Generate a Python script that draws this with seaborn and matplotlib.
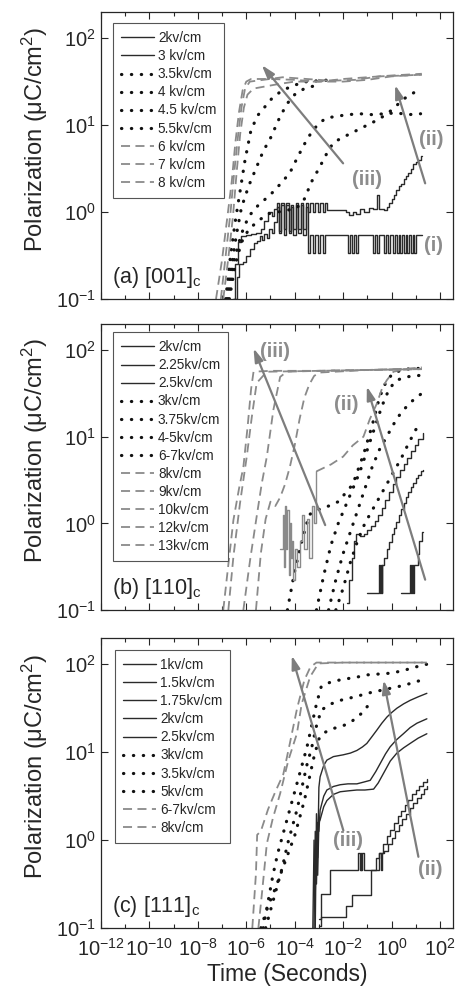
import numpy as np
import pandas as pd
import matplotlib
matplotlib.use("Agg")
import matplotlib.pyplot as plt
from matplotlib.ticker import LogLocator, NullLocator, LogFormatterMathtext, NullFormatter
import seaborn as sns

# values as (log10 time [s], log10 polarization [uC/cm2])

# ---- (a) [001]c ----
a_2kv = [(-6.55, -1.0), (-6.45, -0.6), (-6.35, -0.35), (-6.2, -0.28), (-6.0, -0.26), (-5.8, -0.25),
         (-5.6, -0.24), (-5.4, -0.2), (-5.25, -0.1), (-5.1, 0.0), (-4.95, -0.05), (-4.85, 0.03),
         (-4.75, 0.06), (-4.65, -0.22), (-4.55, 0.08), (-4.45, -0.26), (-4.35, 0.08), (-4.25, -0.22),
         (-4.15, 0.06), (-4.05, -0.26), (-3.95, 0.08), (-3.85, -0.2), (-3.75, 0.08), (-3.65, -0.26),
         (-3.55, 0.06), (-3.45, -0.47), (-3.35, -0.26), (-3.25, -0.47), (-3.15, -0.26), (-3.05, -0.47),
         (-2.95, -0.26), (-2.85, -0.47), (-2.75, -0.26), (-1.8, -0.47), (-1.72, -0.26), (-1.64, -0.47),
         (-1.56, -0.26), (-1.48, -0.47), (-1.4, -0.26), (-0.75, -0.47), (-0.68, -0.26), (-0.6, -0.47),
         (-0.52, -0.26), (-0.3, -0.47), (-0.22, -0.26), (-0.14, -0.47), (-0.06, -0.26), (0.05, -0.47),
         (0.13, -0.26), (0.21, -0.47), (0.29, -0.26), (0.37, -0.47), (0.45, -0.26), (0.52, -0.47),
         (0.59, -0.26), (0.66, -0.47), (0.73, -0.26), (0.8, -0.47), (0.87, -0.26), (0.94, -0.47),
         (1.02, -0.26), (1.25, -0.26)]
a_3kv = [(-6.5, -1.0), (-6.4, -0.75), (-6.3, -0.6), (-6.15, -0.58), (-6.0, -0.5), (-5.85, -0.42),
         (-5.7, -0.36), (-5.55, -0.33), (-5.45, -0.28), (-5.35, -0.32), (-5.25, -0.25), (-5.15, -0.3),
         (-5.05, -0.2), (-4.95, -0.24), (-4.85, -0.12), (-4.75, 0.1), (-4.65, -0.24), (-4.55, 0.1),
         (-4.45, -0.2), (-4.35, 0.1), (-4.25, -0.24), (-4.15, 0.08), (-4.05, -0.2), (-3.95, 0.1),
         (-3.85, -0.24), (-3.75, 0.1), (-3.65, -0.2), (-3.55, 0.1), (-3.45, 0.0), (-3.35, 0.1),
         (-3.25, 0.0), (-3.15, 0.1), (-3.05, 0.0), (-2.95, 0.1), (-2.85, 0.0), (-2.75, 0.1),
         (-2.65, 0.02), (-1.9, 0.0), (-1.75, -0.03), (-1.6, 0.0), (-1.45, -0.02), (-1.3, 0.03),
         (-1.15, 0.0), (-0.95, 0.05), (-0.75, 0.03), (-0.62, 0.2), (-0.52, 0.03), (-0.3, 0.02),
         (-0.2, 0.06), (-0.1, 0.1), (0.0, 0.15), (0.1, 0.2), (0.2, 0.25), (0.3, 0.3), (0.4, 0.32),
         (0.5, 0.38), (0.6, 0.42), (0.7, 0.45), (0.8, 0.5), (0.9, 0.55), (1.0, 0.58), (1.1, 0.6),
         (1.2, 0.65), (1.25, 0.65)]
a_35kv = [(-6.7, -1.0), (-6.45, -0.6), (-6.2, -0.35), (-5.9, -0.2), (-5.5, -0.1), (-5.1, -0.02),
          (-4.7, 0.0), (-4.3, 0.02), (-3.9, 0.05), (-3.6, 0.15), (-3.3, 0.35), (-3.0, 0.5),
          (-2.7, 0.66), (-2.4, 0.8), (-2.0, 0.86), (-1.5, 0.93), (-1.0, 1.0), (-0.5, 1.07),
          (0.0, 1.17), (0.5, 1.3), (1.2, 1.42)]
a_4kv = [(-6.75, -1.0), (-6.5, -0.55), (-6.2, -0.25), (-5.9, -0.05), (-5.5, 0.08), (-5.0, 0.2),
         (-4.6, 0.32), (-4.2, 0.45), (-3.9, 0.62), (-3.6, 0.78), (-3.3, 0.92), (-3.0, 1.02),
         (-2.7, 1.08), (-2.3, 1.1), (-1.8, 1.12), (-1.3, 1.13), (-0.8, 1.12), (-0.3, 1.13),
         (0.2, 1.14), (0.7, 1.12), (1.2, 1.13)]
a_45kv = [(-6.8, -1.0), (-6.6, -0.6), (-6.4, -0.25), (-6.2, 0.05), (-5.9, 0.3), (-5.6, 0.5),
          (-5.3, 0.7), (-5.0, 0.85), (-4.6, 1.1), (-4.3, 1.25), (-4.0, 1.35), (-3.6, 1.42),
          (-3.2, 1.45), (-2.9, 1.46)]
a_55kv = [(-6.85, -1.0), (-6.65, -0.5), (-6.45, -0.1), (-6.25, 0.25), (-6.05, 0.6), (-5.8, 0.95),
          (-5.5, 1.12), (-5.2, 1.22), (-4.9, 1.32), (-4.5, 1.4), (-4.0, 1.46), (-3.5, 1.5),
          (-3.0, 1.51), (-2.5, 1.52)]
a_6kv = [(-6.95, -1.0), (-6.75, -0.55), (-6.55, -0.05), (-6.4, 0.45), (-6.25, 0.9), (-6.1, 1.2),
         (-5.95, 1.35), (-5.7, 1.42), (-5.3, 1.44), (-4.7, 1.47), (-4.0, 1.5), (-3.0, 1.5),
         (-2.0, 1.5), (-1.0, 1.52), (0.0, 1.56), (1.25, 1.58)]
a_7kv = [(-7.05, -1.0), (-6.85, -0.5), (-6.65, 0.0), (-6.5, 0.45), (-6.35, 0.85), (-6.2, 1.2),
         (-6.05, 1.42), (-5.85, 1.5), (-5.3, 1.52), (-4.5, 1.55), (-3.5, 1.53), (-2.5, 1.51),
         (-1.5, 1.52), (-0.5, 1.56), (0.5, 1.57), (1.25, 1.58)]
a_8kv = [(-7.25, -1.0), (-7.0, -0.55), (-6.8, -0.1), (-6.6, 0.35), (-6.45, 0.8), (-6.3, 1.15),
         (-6.15, 1.4), (-6.0, 1.5), (-5.8, 1.53), (-5.0, 1.53), (-4.0, 1.52), (-3.0, 1.5),
         (-2.0, 1.53), (-1.0, 1.55), (0.0, 1.57), (1.25, 1.59)]

# ---- (b) [110]c ----
b_2kv = [(0.4, -0.8), (0.75, -0.48), (0.8, -0.8), (0.85, -0.48), (0.88, -0.8), (0.92, -0.48),
         (1.0, -0.48), (1.08, -0.35), (1.15, -0.2), (1.25, -0.1), (1.3, -0.1)]
b_225kv = [(-1.0, -0.8), (-0.5, -0.48), (-0.47, -0.8), (-0.44, -0.48), (-0.41, -0.8), (-0.38, -0.48),
           (-0.3, -0.4), (-0.2, -0.3), (-0.1, -0.22), (0.0, -0.12), (0.1, -0.05), (0.2, 0.02),
           (0.3, 0.1), (0.4, 0.17), (0.5, 0.23), (0.6, 0.3), (0.7, 0.36), (0.8, 0.42), (0.9, 0.47),
           (1.0, 0.52), (1.1, 0.56), (1.2, 0.6), (1.3, 0.62)]
b_25kv = [(-1.85, -0.92), (-1.75, -0.65), (-1.65, -0.4), (-1.55, -0.2), (-1.45, -0.12), (-1.3, -0.15),
          (-1.15, -0.12), (-1.0, -0.08), (-0.85, -0.03), (-0.7, 0.03), (-0.55, 0.1), (-0.4, 0.18),
          (-0.25, 0.27), (-0.1, 0.36), (0.05, 0.45), (0.2, 0.53), (0.35, 0.61), (0.5, 0.68),
          (0.65, 0.75), (0.8, 0.83), (0.95, 0.9), (1.1, 0.97), (1.3, 1.04)]
b_3kv = [(-2.3, -1.0), (-2.0, -0.75), (-1.7, -0.45), (-1.4, -0.2), (-1.1, 0.0), (-0.8, 0.15),
         (-0.5, 0.3), (-0.2, 0.45), (0.1, 0.6), (0.4, 0.75), (0.7, 0.92), (1.0, 1.08), (1.25, 1.17)]
b_375kv = [(-2.6, -1.0), (-2.3, -0.65), (-2.0, -0.35), (-1.7, -0.1), (-1.4, 0.15), (-1.1, 0.4),
           (-0.8, 0.65), (-0.5, 0.85), (-0.2, 1.0), (0.1, 1.15), (0.4, 1.28), (0.8, 1.4), (1.25, 1.5)]
b_45kv = [(-3.1, -1.0), (-2.8, -0.6), (-2.5, -0.25), (-2.2, 0.0), (-1.9, 0.2), (-1.6, 0.4),
          (-1.3, 0.6), (-1.0, 0.85), (-0.7, 1.1), (-0.4, 1.35), (-0.1, 1.55), (0.2, 1.65),
          (0.6, 1.69), (1.25, 1.71)]
b_67kv = [(-4.3, -1.0), (-4.0, -0.55), (-3.7, -0.2), (-3.4, 0.1), (-3.1, 0.15), (-2.6, 0.2),
          (-2.2, 0.25), (-1.6, 0.45), (-1.15, 0.8), (-0.8, 1.13), (-0.5, 1.45), (-0.2, 1.65),
          (0.1, 1.74), (0.6, 1.78), (1.25, 1.79)]
b_8kv = [(-3.1, 0.6), (-2.5, 0.68), (-2.0, 0.77), (-1.6, 0.9), (-1.16, 1.0), (-0.9, 1.2),
         (-0.61, 1.38), (-0.4, 1.55), (-0.2, 1.65), (0.08, 1.75), (0.6, 1.78), (1.25, 1.8)]
b_8kv_noise = [(-4.6, -0.3), (-4.5, 0.1), (-4.45, -0.5), (-4.4, 0.2), (-4.35, -0.3), (-4.3, 0.15),
               (-4.25, -0.6), (-4.2, 0.0), (-4.15, -0.4), (-4.1, -0.2), (-4.05, -0.65), (-4.0, -0.3),
               (-3.9, -0.5), (-3.8, -0.2), (-3.7, 0.1), (-3.6, -0.3), (-3.5, 0.05), (-3.4, -0.4),
               (-3.3, 0.2), (-3.2, 0.0), (-3.1, 0.6)]
b_9kv = [(-5.6, -1.0), (-5.4, -0.35), (-5.2, 0.05), (-5.0, 0.25), (-4.8, 0.2), (-4.6, 0.3),
         (-4.4, 0.45), (-4.2, 0.65), (-4.0, 0.9), (-3.8, 1.2), (-3.6, 1.45), (-3.4, 1.6),
         (-3.2, 1.7), (-3.0, 1.74), (-1.0, 1.77), (1.25, 1.79)]
b_10kv = [(-6.12, -1.0), (-5.84, -0.42), (-5.57, 0.08), (-5.36, 0.46), (-5.15, 0.77), (-4.88, 1.31),
          (-4.6, 1.69), (-4.33, 1.75), (-3.0, 1.76), (-1.0, 1.77), (1.25, 1.78)]
b_12kv = [(-6.74, -1.0), (-6.53, -0.38), (-6.26, 0.23), (-5.98, 0.77), (-5.77, 1.23), (-5.57, 1.62),
          (-5.15, 1.75), (-3.0, 1.76), (-1.0, 1.77), (1.25, 1.78)]
b_13kv = [(-6.95, -1.0), (-6.75, -0.5), (-6.53, 0.04), (-6.3, 0.4), (-6.12, 0.65), (-5.95, 1.1),
          (-5.8, 1.55), (-5.7, 1.75), (-5.0, 1.76), (-3.0, 1.76), (-1.0, 1.77), (1.25, 1.78)]

# ---- (c) [111]c ----
c_1kv = [(-3.0, -0.98), (-2.9, -0.88), (-2.1, -0.88), (-1.9, -0.75), (-1.65, -0.63), (-0.85, -0.34),
         (-0.65, -0.2), (-0.5, -0.15), (-0.35, -0.05), (-0.2, 0.05), (-0.05, 0.12), (0.1, 0.2),
         (0.25, 0.27), (0.4, 0.33), (0.55, 0.4), (0.7, 0.46), (0.85, 0.52), (1.0, 0.57),
         (1.15, 0.62), (1.3, 0.66), (1.45, 0.69)]
c_15kv = [(-3.0, -0.9), (-2.9, -0.61), (-2.55, -0.34), (-1.37, -0.15), (-1.32, -0.34), (-1.28, -0.15),
          (-1.24, -0.34), (-1.2, -0.15), (-1.15, -0.34), (-0.5, -0.15), (-0.45, -0.34), (-0.4, -0.15),
          (-0.3, -0.12), (-0.15, -0.05), (0.0, 0.02), (0.15, 0.1), (0.3, 0.17), (0.45, 0.24),
          (0.6, 0.3), (0.75, 0.36), (0.9, 0.42), (1.05, 0.48), (1.2, 0.53), (1.35, 0.58), (1.45, 0.61)]
c_175kv = [(-3.25, -1.0), (-3.2, 0.0), (-3.15, -0.6), (-3.1, 0.1), (-3.05, -0.4), (-3.0, 0.2),
           (-2.95, 0.23), (-2.8, 0.38), (-2.67, 0.45), (-2.4, 0.52), (-2.12, 0.55), (-1.8, 0.56),
           (-1.43, 0.57), (-1.1, 0.57), (-0.74, 0.58), (-0.55, 0.65), (-0.33, 0.76), (-0.05, 0.9),
           (0.22, 0.99), (0.5, 1.05), (0.77, 1.1), (1.1, 1.16), (1.46, 1.21)]
c_2kv = [(-3.2, -1.0), (-3.15, 0.1), (-3.1, -0.5), (-3.05, 0.2), (-3.0, 0.1), (-2.95, 0.34),
         (-2.8, 0.5), (-2.67, 0.57), (-2.4, 0.61), (-2.12, 0.63), (-1.8, 0.64), (-1.43, 0.64),
         (-1.15, 0.66), (-0.88, 0.68), (-0.65, 0.78), (-0.47, 0.87), (-0.25, 0.98), (-0.06, 1.06),
         (0.2, 1.14), (0.49, 1.21), (0.77, 1.28), (1.05, 1.33), (1.46, 1.38)]
c_25kv = [(-3.15, -1.0), (-3.1, 0.3), (-3.05, -0.2), (-3.0, 0.6), (-2.95, 0.72), (-2.8, 0.85),
          (-2.67, 0.91), (-2.4, 0.95), (-2.0, 0.97), (-1.7, 0.99), (-1.43, 1.02), (-1.2, 1.06),
          (-1.02, 1.1), (-0.8, 1.18), (-0.61, 1.25), (-0.4, 1.33), (-0.19, 1.4), (0.0, 1.45),
          (0.22, 1.5), (0.5, 1.55), (0.77, 1.59), (1.1, 1.63), (1.46, 1.67)]
c_3kv = [(-5.4, -1.0), (-5.1, -0.75), (-4.8, -0.55), (-4.6, -0.4), (-4.4, -0.25), (-4.2, -0.1),
         (-4.0, 0.05), (-3.8, 0.25), (-3.6, 0.45), (-3.4, 0.7), (-3.2, 0.95), (-3.0, 1.15),
         (-2.8, 1.22), (-2.4, 1.27), (-2.0, 1.3), (-1.6, 1.36), (-1.2, 1.45), (-1.0, 1.52)]
c_35kv = [(-5.2, -1.0), (-4.9, -0.7), (-4.7, -0.5), (-4.5, -0.3), (-4.3, -0.05), (-4.1, 0.15),
          (-3.9, 0.35), (-3.7, 0.6), (-3.5, 0.85), (-3.3, 1.05), (-3.1, 1.3), (-2.9, 1.48),
          (-2.5, 1.55), (-2.0, 1.6), (-1.5, 1.63), (-1.0, 1.67), (-0.5, 1.7), (0.0, 1.73),
          (0.5, 1.76), (1.0, 1.8), (1.45, 1.84)]
c_5kv = [(-5.3, -1.0), (-5.1, -0.7), (-4.9, -0.4), (-4.7, -0.15), (-4.5, 0.05), (-4.3, 0.25),
         (-4.1, 0.45), (-3.9, 0.65), (-3.7, 0.85), (-3.5, 1.05), (-3.3, 1.3), (-3.1, 1.55),
         (-2.9, 1.75), (-2.5, 1.8), (-2.0, 1.83), (-1.5, 1.85), (-1.0, 1.88), (-0.5, 1.89),
         (0.0, 1.9), (0.5, 1.93), (1.0, 1.97), (1.45, 2.0)]
c_67kv = [(-5.5, -1.0), (-5.35, -0.6), (-5.15, -0.04), (-4.9, 0.25), (-4.6, 0.53), (-4.26, 0.91),
          (-3.91, 1.21), (-3.71, 1.55), (-3.36, 1.86), (-3.02, 2.01), (-2.0, 2.02), (0.0, 2.02),
          (1.46, 2.02)]
c_8kv = [(-5.75, -1.0), (-5.6, -0.38), (-5.55, 0.06), (-5.4, 0.1), (-5.1, 0.35), (-4.8, 0.55),
         (-4.47, 0.75), (-4.2, 1.1), (-3.9, 1.5), (-3.6, 1.82), (-3.35, 1.97), (-3.1, 2.02),
         (1.46, 2.02)]

# arrows (tail, head) and their labels, same log units
a_arrows = [((-2.0, 0.56), (-5.36, 1.69)), ((1.39, 0.33), (0.15, 1.46))]
a_marks = [("(iii)", -1.02, 0.37), ("(ii)", 1.66, 0.83), ("(i)", 1.73, -0.38)]
b_arrows = [((-2.74, -0.02), (-5.7, 2.02)), ((1.39, -0.65), (-1.02, 1.58))]
b_marks = [("(iii)", -4.81, 1.98), ("(ii)", -1.85, 1.37)]
c_arrows = [((-1.99, 0.11), (-4.12, 2.1)), ((1.11, -0.19), (-0.33, 1.82))]
c_marks = [("(iii)", -1.78, 0.0), ("(ii)", 1.6, -0.34)]

SOLID = dict(color="#2a2a2a", linestyle="-", linewidth=1.0)
DOT = dict(color="#111111", linestyle=(0, (0.1, 3.0)), linewidth=2.3, dash_capstyle="round")
DASH = dict(color="#8a8a8a", linestyle=(0, (5, 3)), linewidth=1.3)
GRAY = "#7d7d7d"

sns.set_style("ticks")
plt.rcParams["font.family"] = ["Liberation Sans", "DejaVu Sans"]
plt.rcParams["mathtext.default"] = "regular"


def curve(ax, pairs, style, label=None, steps=False):
    lt, lp = zip(*pairs)
    df = pd.DataFrame({"t": 10.0 ** np.array(lt), "p": 10.0 ** np.array(lp)})
    kw = dict(style)
    if steps:
        kw["drawstyle"] = "steps-post"
    sns.lineplot(data=df, x="t", y="p", ax=ax, estimator=None, sort=False,
                 label=label, legend=False, **kw)


def decorate(ax, arrows, marks, tag, bottom):
    for tail, head in arrows:
        ax.annotate("", xy=(10 ** head[0], 10 ** head[1]), xytext=(10 ** tail[0], 10 ** tail[1]),
                    arrowprops=dict(arrowstyle="-|>,head_length=0.8,head_width=0.25",
                                    color=GRAY, lw=1.6, shrinkA=0, shrinkB=0))
    for txt, x, y in marks:
        ax.text(10 ** x, 10 ** y, txt, color="#8c8c8c", fontsize=14.5, fontweight="bold",
                ha="center", va="center")
    ax.text(0.03, 0.055, tag, transform=ax.transAxes, fontsize=15.5, va="baseline")
    ax.set_xlim(1e-12, 10 ** 2.54)
    ax.set_ylim(0.1, 10 ** 2.3)
    ax.xaxis.set_major_locator(LogLocator(base=100.0, numticks=20))
    ax.xaxis.set_minor_locator(LogLocator(base=10.0, subs=(1.0,), numticks=30))
    ax.yaxis.set_major_locator(LogLocator(base=10.0, numticks=10))
    ax.yaxis.set_minor_locator(NullLocator())
    ax.yaxis.set_major_formatter(LogFormatterMathtext())
    ax.tick_params(which="both", direction="in", top=True, right=True, width=0.8, labelsize=14.5)
    ax.tick_params(which="major", length=5)
    ax.tick_params(which="minor", length=3)
    for s in ax.spines.values():
        s.set_linewidth(0.9)
    ax.set_ylabel(r"Polarization ($\mu$C/cm$^2$)", fontsize=17)
    ax.yaxis.set_label_coords(-0.145, 0.557)
    if bottom:
        ax.xaxis.set_major_formatter(LogFormatterMathtext())
        ax.tick_params(axis="x", pad=7)
        ax.set_xlabel("Time (Seconds)", fontsize=16.5)
        ax.xaxis.set_label_coords(0.53, -0.12)
    else:
        ax.xaxis.set_major_formatter(NullFormatter())
        ax.set_xlabel("")
    ax.xaxis.set_minor_formatter(NullFormatter())


fig = plt.figure(figsize=(4.6, 9.94), dpi=100)
ax_a = fig.add_axes([0.2196, 0.6992, 0.7652, 0.2887])
ax_b = fig.add_axes([0.2196, 0.3863, 0.7652, 0.2877])
ax_c = fig.add_axes([0.2196, 0.0664, 0.7652, 0.2918])
for ax in (ax_a, ax_b, ax_c):
    ax.set_xscale("log")
    ax.set_yscale("log")

# (a)
curve(ax_a, a_2kv, SOLID, "2kv/cm", steps=True)
curve(ax_a, a_3kv, SOLID, "3 kv/cm", steps=True)
curve(ax_a, a_35kv, DOT, "3.5kv/cm")
curve(ax_a, a_4kv, DOT, "4 kv/cm")
curve(ax_a, a_45kv, DOT, "4.5 kv/cm")
curve(ax_a, a_55kv, DOT, "5.5kv/cm")
curve(ax_a, a_6kv, DASH, "6 kv/cm")
curve(ax_a, a_7kv, DASH, "7 kv/cm")
curve(ax_a, a_8kv, DASH, "8 kv/cm")
decorate(ax_a, a_arrows, a_marks, r"(a) [001]$_{\mathregular{c}}$", False)

# (b)
curve(ax_b, b_2kv, SOLID, "2kv/cm", steps=True)
curve(ax_b, b_225kv, SOLID, "2.25kv/cm", steps=True)
curve(ax_b, b_25kv, SOLID, "2.5kv/cm", steps=True)
curve(ax_b, b_3kv, DOT, "3kv/cm")
curve(ax_b, b_375kv, DOT, "3.75kv/cm")
curve(ax_b, b_45kv, DOT, "4-5kv/cm")
curve(ax_b, b_67kv, DOT, "6-7kv/cm")
curve(ax_b, b_8kv, DASH, "8kv/cm")
curve(ax_b, b_9kv, DASH, "9kv/cm")
curve(ax_b, b_10kv, DASH, "10kv/cm")
curve(ax_b, b_12kv, DASH, "12kv/cm")
curve(ax_b, b_13kv, DASH, "13kv/cm")
curve(ax_b, b_8kv_noise, dict(color="#8a8a8a", linewidth=1.0), None, steps=True)
decorate(ax_b, b_arrows, b_marks, r"(b) [110]$_{\mathregular{c}}$", False)

# (c)
curve(ax_c, c_1kv, SOLID, "1kv/cm", steps=True)
curve(ax_c, c_15kv, SOLID, "1.5kv/cm", steps=True)
curve(ax_c, c_175kv, SOLID, "1.75kv/cm")
curve(ax_c, c_2kv, SOLID, "2kv/cm")
curve(ax_c, c_25kv, SOLID, "2.5kv/cm")
curve(ax_c, c_3kv, DOT, "3kv/cm")
curve(ax_c, c_35kv, DOT, "3.5kv/cm")
curve(ax_c, c_5kv, DOT, "5kv/cm")
curve(ax_c, c_67kv, DASH, "6-7kv/cm")
curve(ax_c, c_8kv, DASH, "8kv/cm")
decorate(ax_c, c_arrows, c_marks, r"(c) [111]$_{\mathregular{c}}$", True)

for ax, anchor in ((ax_a, (0.034, 0.962)), (ax_b, (0.034, 0.972)), (ax_c, (0.04, 0.959))):
    leg = ax.legend(loc="upper left", bbox_to_anchor=anchor, borderaxespad=0, fontsize=9.8,
                    frameon=True, fancybox=False, edgecolor="#555555", framealpha=1,
                    borderpad=0.6, labelspacing=0.3, handlelength=2.4, handletextpad=0.3)
    leg.get_frame().set_linewidth(0.8)

fig.savefig("out.png", dpi=100)
